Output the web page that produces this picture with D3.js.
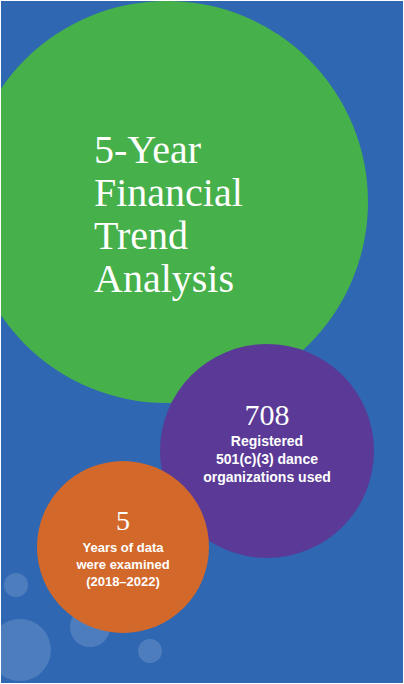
<!DOCTYPE html>
<html>
<head>
<meta charset="utf-8">
<script src="https://cdn.jsdelivr.net/npm/d3@7"></script>
<style>
  body { margin: 0; background: #fff; }
  svg { display: block; }
</style>
</head>
<body>
<svg id="chart" width="404" height="684"></svg>
<script>
// big circles: name, centre, radius, fill
const bubbleNames = ["title", "orgs", "years"];
const bubbleCx = [167, 267, 123];
const bubbleCy = [202, 451, 547];
const bubbleR = [201, 107, 86];
const bubbleFill = ["#46b04a", "#5a3a96", "#d2692b"];

// faint decoration bubbles
const dotCx = [16, 20, 90, 150];
const dotCy = [585, 650, 627, 651];
const dotR = [12, 31, 20, 12];

const titleLines = ["5-Year", "Financial", "Trend", "Analysis"];
const orgNumber = "708";
const orgLines = ["Registered", "501(c)(3) dance", "organizations used"];
const yearNumber = "5";
const yearLines = ["Years of data", "were examined", "(2018\u20132022)"];

const svg = d3.select("#chart");
const W = 404, H = 684;

svg.append("rect").attr("width", W).attr("height", H).attr("fill", "#2f67b2");

svg.selectAll("circle.dot")
  .data(dotCx.map((x, i) => ({ x, y: dotCy[i], r: dotR[i] })))
  .join("circle")
  .attr("class", "dot")
  .attr("cx", d => d.x).attr("cy", d => d.y).attr("r", d => d.r)
  .attr("fill", "#ffffff").attr("fill-opacity", 0.15);

svg.selectAll("circle.bubble")
  .data(bubbleNames.map((n, i) => ({ n, x: bubbleCx[i], y: bubbleCy[i], r: bubbleR[i], c: bubbleFill[i] })))
  .join("circle")
  .attr("class", "bubble")
  .attr("cx", d => d.x).attr("cy", d => d.y).attr("r", d => d.r)
  .attr("fill", d => d.c);

const serif = "'Liberation Serif', 'DejaVu Serif', serif";
const sans = "'Liberation Sans', Arial, sans-serif";

// title
svg.append("g").selectAll("text")
  .data(titleLines)
  .join("text")
  .attr("x", 94)
  .attr("y", (d, i) => 163 + i * 43)
  .attr("fill", "#fff")
  .attr("font-family", serif)
  .attr("font-size", 40)
  .text(d => d);

const block = (cx, numY, num, numSize, lines, y0, step, size) => {
  svg.append("text")
    .attr("x", cx).attr("y", numY)
    .attr("text-anchor", "middle")
    .attr("fill", "#fff")
    .attr("font-family", serif)
    .attr("font-size", numSize)
    .text(num);
  svg.append("g").selectAll("text")
    .data(lines)
    .join("text")
    .attr("x", cx)
    .attr("y", (d, i) => y0 + i * step)
    .attr("text-anchor", "middle")
    .attr("fill", "#fff")
    .attr("font-family", sans)
    .attr("font-weight", "bold")
    .attr("font-size", size)
    .text(d => d);
};

block(267, 425, orgNumber, 30, orgLines, 446, 18, 14);
block(123, 530, yearNumber, 28, yearLines, 552, 17, 13);

// thin white frame
svg.append("rect").attr("x", 0.5).attr("y", 0.5).attr("width", W - 1).attr("height", H - 1)
  .attr("fill", "none").attr("stroke", "#fff").attr("stroke-width", 1);
</script>
</body>
</html>
